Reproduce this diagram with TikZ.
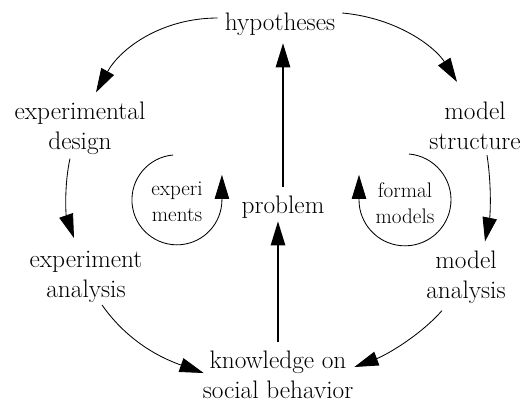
\documentclass[tikz,border=0pt]{standalone}
\usetikzlibrary{arrows.meta,calc}
\tikzset{
	lbl/.style={align=center, inner sep=2pt, font=\fontsize{18pt}{21.5pt}\selectfont},
	sml/.style={align=center, inner sep=2pt, font=\fontsize{15pt}{18.4pt}\selectfont},
	arr/.style={-{Triangle[length=0.6cm,width=0.36cm]}, line width=0.6pt},
	gap/.style={shorten <=0.14cm, shorten >=0.12cm, line width=0.9pt}
}

\begin{document}
\begin{tikzpicture}[x=0.025cm, y=-0.025cm]
		%%%%% START %%%%%
		\useasboundingbox (0, 0) rectangle (524, 403);
		
		\node[lbl] (hyp) at (280, 24) {hypotheses};
		\node[lbl] (expd) at (80, 128) {experimental\\design};
		\node[lbl] (mstr) at (475, 126) {model\\structure};
		\node[lbl] (expa) at (86, 277) {experiment\\analysis};
		\node[lbl] (mana) at (466, 277) {model\\analysis};
		\node[lbl] (know) at (278, 375) {knowledge on\\social behavior};
		\node[lbl] (prob) at (283, 207) {problem};
		
		\node[sml] (exps) at (177, 202) {experi\\ments};
		\node[sml] (fm) at (405, 203) {formal\\models};
		
		% outer cycle
		\draw[arr] ($(hyp.west)+(-4,-6)$) .. controls +(-55,0) and +(25,-45) .. ($(expd.north)+(16,-6)$);
		\draw[arr] ($(hyp.east)+(4,-11)$) .. controls +(55,5) and +(-22,-35) .. ($(mstr.north)+(-18,-17)$);
		\draw[arr] ($(expd.south)+(-10,1)$) .. controls +(-6,27) and +(-8,-23) .. ($(expa.north)+(-12,-10)$);
		\draw[arr] ($(mstr.south)+(12,2)$) .. controls +(5,33) and +(5,-25) .. ($(mana.north)+(19,-6)$);
		\draw[arr] ($(expa.south)+(16,-1)$) .. controls +(28,40) and +(-37,-13) .. ($(know.west)+(4,-2)$);
		\draw[arr] ($(mana.south)+(-24,4)$) .. controls +(-22,25) and +(32,-12) .. ($(know.east)+(-2,-8)$);
		
		% middle line
		\draw[arr, gap] (prob.north) -- (prob.north |- hyp.south);
		\draw[arr, gap, shorten >=0pt] (know.north) -- (know.north |- prob.south);
		
		% loops
		\draw[arr] ($(exps)+(-4,-47)$) arc[start angle=265, end angle=0, radius=45] -- ++(0, -25);
		\draw[arr] ($(fm)+(4,-49)$) arc[start angle=275, end angle=540, radius=46] -- ++(0, -25);
		
		%%%%% END %%%%%
	\end{tikzpicture}
\end{document}
